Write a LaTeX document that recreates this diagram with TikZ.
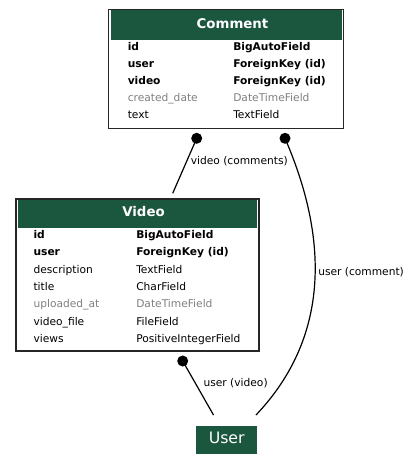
\documentclass[tikz,border=0pt]{standalone}
\usepackage{fontspec}
\setmainfont{DejaVu Sans}
\definecolor{hdrgreen}{RGB}{27,86,63}
\definecolor{faded}{RGB}{128,128,128}
\begin{document}
\begin{tikzpicture}[x=0.75pt,y=-0.75pt,
  tablebox/.style={draw=black!85,line width=0.9pt,rectangle,inner sep=0pt,fill=white},
  hdr/.style={fill=hdrgreen,rectangle,inner sep=0pt},
  hdrtext/.style={text=white,font=\fontsize{10}{12}\selectfont\bfseries,inner sep=0pt},
  fld/.style={anchor=base west,inner sep=0pt,font=\fontsize{8}{10}\selectfont},
  key/.style={fld,font=\fontsize{8}{10}\selectfont\bfseries},
  dim/.style={fld,text=faded},
  dot/.style={circle,fill=black,inner sep=0pt,minimum size=8.25pt},
  rel/.style={line width=0.9pt},
  rellabel/.style={anchor=west,inner sep=0pt,font=\fontsize{8}{10}\selectfont}]
\useasboundingbox (0,0) rectangle (409,469);
% Comment table
\node[tablebox,minimum width=176.25pt,minimum height=89.25pt] (comment) at (226,69) {};
\node[hdr,minimum width=173.25pt,minimum height=22pt] (commenthdr) at (226,25) {};
\node[hdrtext] (commenttitle) at (232.5,23.5) {Comment};
\node[key] (c1a) at (127.5,50.5) {id};
\node[key] (c1b) at (233,50.5) {BigAutoField};
\node[key] (c2a) at (127.5,67.6) {user};
\node[key] (c2b) at (233,67.6) {ForeignKey (id)};
\node[key] (c3a) at (127.5,84.7) {video};
\node[key] (c3b) at (233,84.7) {ForeignKey (id)};
\node[dim] (c4a) at (127.5,101.8) {created\_date};
\node[dim] (c4b) at (233,101.8) {DateTimeField};
\node[fld] (c5a) at (127.5,118.9) {text};
\node[fld] (c5b) at (233,118.9) {TextField};
% Video table
\node[tablebox,minimum width=182.25pt,minimum height=114pt] (video) at (137.5,275) {};
\node[hdr,minimum width=179.25pt,minimum height=21pt] (videohdr) at (137.5,214) {};
\node[hdrtext] (videotitle) at (143.5,212) {Video};
\node[key] (v1a) at (33.3,238.5) {id};
\node[key] (v1b) at (136,238.5) {BigAutoField};
\node[key] (v2a) at (33.3,255.8) {user};
\node[key] (v2b) at (136,255.8) {ForeignKey (id)};
\node[fld] (v3a) at (33.3,273.2) {description};
\node[fld] (v3b) at (136,273.2) {TextField};
\node[fld] (v4a) at (33.3,290.5) {title};
\node[fld] (v4b) at (136,290.5) {CharField};
\node[dim] (v5a) at (33.3,307.8) {uploaded\_at};
\node[dim] (v5b) at (136,307.8) {DateTimeField};
\node[fld] (v6a) at (33.3,325.1) {video\_file};
\node[fld] (v6b) at (136,325.1) {FileField};
\node[fld] (v7a) at (33.3,342.4) {views};
\node[fld] (v7b) at (136,342.4) {PositiveIntegerField};
% User
\node[hdr,minimum width=45.75pt,minimum height=21pt,text=white,
      font=\fontsize{11.8}{14}\selectfont,text depth=3.5pt] (user) at (226.7,440) {User};
% relations
\node[dot] (d1) at (196.7,138.3) {};
\node[dot] (d2) at (285,138.3) {};
\node[dot] (d3) at (182.7,361) {};
\coordinate (e1) at (172.7,193.3);
\coordinate (e2) at (256,415);
\coordinate (e3) at (213.5,415);
\draw[rel] (d1.center) -- (e1);
\draw[rel] (d2.center) .. controls (327,235) and (332,335) .. (e2);
\draw[rel] (d3.center) -- (e3);
\node[rellabel] (l1) at (190.5,161.5) {video (comments)};
\node[rellabel] (l2) at (318,272.5) {user (comment)};
\node[rellabel] (l3) at (203.3,383.5) {user (video)};
\end{tikzpicture}
\end{document}
